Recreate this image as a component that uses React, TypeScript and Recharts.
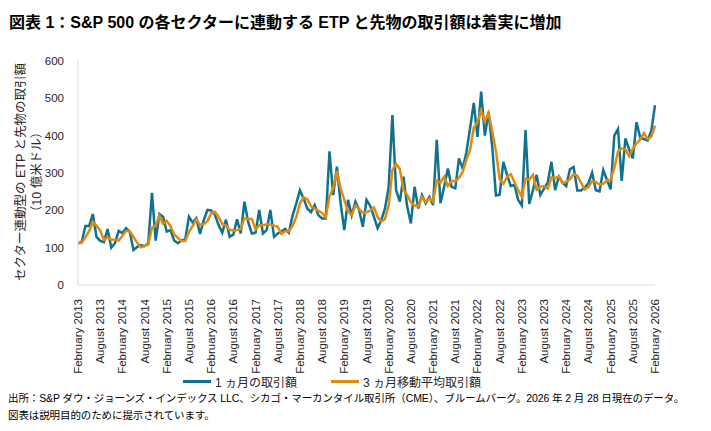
import React from 'react';
import { LineChart, Line, XAxis, YAxis } from 'recharts';

const YEARS = [2013, 2014, 2015, 2016, 2017, 2018, 2019, 2020, 2021, 2022, 2023, 2024, 2025, 2026];
const MONTH_NAMES = [
    'January', 'February', 'March', 'April', 'May', 'June',
    'July', 'August', 'September', 'October', 'November', 'December',
];

// Feb 2013 .. Feb 2026, one entry per month
const MONTHS: string[] = [];
YEARS.forEach((y) => {
    MONTH_NAMES.forEach((m, i) => {
        if (y === 2013 && i < 1) return;
        if (y === 2026 && i > 1) return;
        MONTHS.push(`${m} ${y}`);
    });
});

// 1ヵ月の取引額 (10億米ドル)
const MONTHLY = [
    112, 115, 158, 158, 190, 129, 118, 115, 150, 100, 112, 145,
    139, 152, 142, 94, 102, 107, 104, 112, 247, 119, 190, 183,
    143, 147, 119, 112, 119, 123, 183, 167, 179, 137, 174, 201,
    200, 188, 161, 140, 175, 129, 135, 176, 138, 223, 169, 138,
    140, 201, 138, 147, 201, 129, 138, 143, 150, 140, 185, 218,
    254, 232, 205, 195, 214, 187, 178, 178, 358, 241, 317, 219,
    147, 228, 187, 223, 201, 156, 228, 212, 183, 152, 174, 205,
    263, 455, 255, 223, 290, 210, 165, 263, 205, 241, 219, 236,
    214, 389, 219, 263, 312, 263, 259, 339, 312, 355, 420, 488,
    397, 518, 400, 464, 370, 240, 242, 330, 295, 265, 268, 228,
    213, 415, 217, 254, 295, 241, 258, 275, 330, 254, 290, 274,
    265, 310, 316, 253, 253, 261, 273, 301, 254, 251, 308, 282,
    256, 400, 418, 279, 393, 363, 339, 436, 395, 391, 387, 413,
    482,
];

// 3ヵ月移動平均取引額 (10億米ドル)
const MOVING_AVG = [
    112, 113, 128, 144, 169, 159, 146, 121, 128, 122, 121, 119,
    132, 145, 144, 129, 113, 101, 104, 108, 154, 159, 185, 164,
    172, 158, 136, 126, 117, 118, 142, 158, 176, 161, 163, 171,
    192, 196, 183, 163, 159, 148, 146, 147, 150, 179, 177, 177,
    149, 160, 160, 162, 162, 159, 156, 137, 144, 144, 158, 181,
    219, 235, 230, 211, 205, 199, 193, 181, 238, 259, 305, 259,
    228, 198, 187, 213, 204, 193, 195, 199, 208, 182, 170, 177,
    214, 308, 324, 311, 256, 241, 222, 213, 211, 236, 222, 232,
    223, 280, 274, 290, 265, 279, 278, 287, 303, 335, 362, 421,
    435, 468, 438, 461, 411, 358, 284, 271, 289, 297, 276, 254,
    236, 285, 282, 295, 255, 263, 265, 258, 288, 286, 291, 273,
    276, 283, 297, 293, 274, 256, 262, 278, 276, 269, 271, 280,
    282, 313, 358, 366, 363, 345, 365, 379, 390, 407, 391, 397,
    427,
];

const Y_TICKS = [0, 100, 200, 300, 400, 500, 600];

const data = MONTHS.map((month, i) => ({
    month,
    monthly: MONTHLY[i],
    avg: MOVING_AVG[i],
}));

const BLUE = '#11728f';
const ORANGE = '#e38a0e';
const FONT = '"Liberation Sans", Arial, "Noto Sans CJK JP", sans-serif';

const MonthTick = (props: any) => {
    const { x, y, payload } = props;
    return (
        <text
            transform={`translate(${x + 4},${y + 6}) rotate(-90)`}
            textAnchor="end"
            fontSize={11.5}
            fill="#262626"
            fontFamily={FONT}
        >
            {payload.value}
        </text>
    );
};

export default function App() {
    return (
        <div style={{ position: 'absolute', left: 0, top: 0, width: 711, height: 431, background: '#fff', fontFamily: FONT, color: '#000' }}>
            <div style={{ position: 'absolute', left: 9, top: 9, fontSize: 16, fontWeight: 700, whiteSpace: 'nowrap' }}>
                図表 1：S&amp;P 500 の各セクターに連動する ETP と先物の取引額は着実に増加
            </div>

            <div
                style={{
                    position: 'absolute', left: 29, top: 172,
                    transform: 'translate(-50%, -50%) rotate(-90deg)',
                    fontSize: 12.5, lineHeight: '16px', textAlign: 'center', whiteSpace: 'nowrap', color: '#262626',
                }}
            >
                セクター連動型の ETP と先物の取引額<br />（10 億米ドル）
            </div>

            <div style={{ position: 'absolute', left: 0, top: 0 }}>
                <LineChart width={711} height={380} data={data} margin={{ top: 61, right: 56, left: 0, bottom: 0 }}>
                    <XAxis
                        dataKey="month"
                        interval={5}
                        height={95}
                        tick={<MonthTick />}
                        tickLine={false}
                        stroke="#d9d9d9"
                    />
                    <YAxis
                        domain={[0, 600]}
                        ticks={Y_TICKS}
                        width={78}
                        tickLine={false}
                        stroke="#d9d9d9"
                        tick={{ fill: '#262626', fontSize: 11.5, fontFamily: FONT }}
                        tickMargin={8}
                    />
                    <Line
                        type="linear"
                        dataKey="monthly"
                        stroke={BLUE}
                        strokeWidth={2.5}
                        dot={false}
                        isAnimationActive={false}
                    />
                    <Line
                        type="linear"
                        dataKey="avg"
                        stroke={ORANGE}
                        strokeWidth={2.5}
                        dot={false}
                        isAnimationActive={false}
                    />
                </LineChart>
            </div>

            <div style={{ position: 'absolute', left: 183, top: 373, display: 'flex', alignItems: 'center', fontSize: 12, whiteSpace: 'nowrap', color: '#262626' }}>
                <span style={{ display: 'inline-block', width: 28, height: 3, background: BLUE, marginRight: 4 }} />
                <span>1 ヵ月の取引額</span>
                <span style={{ display: 'inline-block', width: 28, height: 3, background: ORANGE, marginLeft: 34, marginRight: 4 }} />
                <span>3 ヵ月移動平均取引額</span>
            </div>

            <div style={{ position: 'absolute', left: 8, top: 390, fontSize: 10.5, lineHeight: '17px', whiteSpace: 'nowrap', color: '#000', letterSpacing: -0.1 }}>
                出所：S&amp;P ダウ・ジョーンズ・インデックス LLC、シカゴ・マーカンタイル取引所（CME）、ブルームバーグ。2026 年 2 月 28 日現在のデータ。<br />
                図表は説明目的のために提示されています。
            </div>
        </div>
    );
}
